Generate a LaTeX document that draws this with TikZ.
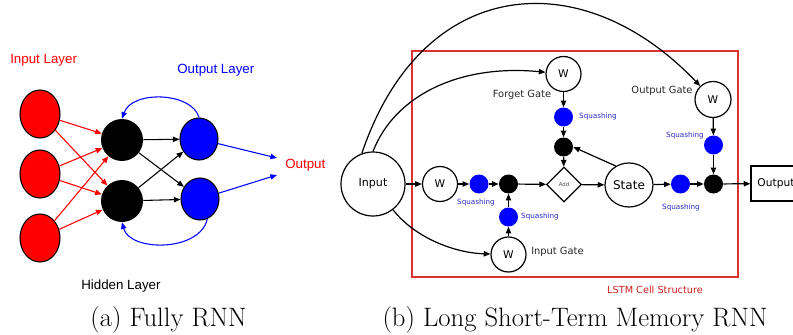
\documentclass[tikz,border=0pt]{standalone}
\usepackage{fontspec}
\newfontfamily\lsans{Liberation Sans}
\newfontfamily\dsans{DejaVu Sans}
\usetikzlibrary{arrows.meta,shapes.geometric}
\definecolor{sqblue}{RGB}{40,40,200}
\definecolor{boxred}{RGB}{220,50,50}
\definecolor{lstmred}{RGB}{205,30,30}
\tikzset{
  tiparr/.style={-{Triangle[length=5pt,width=4pt]}},
  lred/.style={ellipse, draw=black, fill=red, line width=0.8pt, minimum width=30pt, minimum height=36pt, inner sep=0pt},
  lblk/.style={circle, fill=black, minimum size=31.5pt, inner sep=0pt},
  lblu/.style={ellipse, draw=black, fill=blue, line width=0.8pt, minimum width=28.5pt, minimum height=31.5pt, inner sep=0pt},
  ltxt/.style={font=\lsans\fontsize{10}{12}\selectfont, inner sep=0pt},
  redarr/.style={tiparr, draw=red, line width=0.8pt},
  blkarr/.style={tiparr, draw=black, line width=0.8pt},
  bluarr/.style={tiparr, draw=blue, line width=0.8pt},
  wnode/.style={circle, draw=black, fill=white, line width=0.9pt, minimum size=26.25pt, inner sep=0pt, font=\dsans\fontsize{8}{9}\selectfont},
  bdot/.style={circle, fill=blue, minimum size=14.25pt, inner sep=0pt},
  kdot/.style={circle, fill=black, minimum size=14.25pt, inner sep=0pt},
  sqlab/.style={font=\dsans\fontsize{5.4}{6}\selectfont, text=sqblue, inner sep=0pt},
  glab/.style={font=\dsans\fontsize{7.4}{9}\selectfont, text=black!85, inner sep=0pt},
  conn/.style={tiparr, draw=black, line width=0.9pt},
  capt/.style={font=\fontsize{20}{22}\selectfont, inner sep=0pt}
}
\begin{document}
\begin{tikzpicture}[x=0.75pt,y=-0.75pt]
\useasboundingbox (0,0) rectangle (793,335);
\clip (0,0) rectangle (793,335);

% ---------- (a) Fully RNN ----------
\node[lred] (i1) at (40,114) {};
\node[lred] (i2) at (40,174) {};
\node[lred] (i3) at (40,238) {};
\node[lblk] (h1) at (122,140) {};
\node[lblk] (h2) at (122,201) {};
\node[lblu] (o1) at (199,139) {};
\node[lblu] (o2) at (200,199) {};
\node[ltxt, text=red, anchor=west] (lin) at (10,60) {Input Layer};
\node[ltxt, text=blue, anchor=west] (lout) at (177,70) {Output Layer};
\node[ltxt, anchor=west] (lhid) at (81,286) {Hidden Layer};
\node[ltxt, text=red, anchor=west] (lres) at (285,165) {Output};
\coordinate (c1) at (277,158);
\coordinate (c2) at (277,175);

\foreach \a in {i1,i2,i3} \foreach \b in {h1,h2} \draw[redarr] (\a) -- (\b);
\foreach \a in {h1,h2} \foreach \b in {o1,o2} \draw[blkarr] (\a) -- (\b);
\draw[bluarr] (o1) -- (c1);
\draw[bluarr] (o2) -- (c2);
\draw[bluarr] (o1.north) .. controls (192,92) and (132,90) .. (h1.north);
\draw[bluarr] (o2.-70) .. controls (200,252) and (130,252) .. (h2.south);

\node[capt] (capa) at (168.5,320) {(a) Fully RNN};

% ---------- (b) LSTM ----------
\draw[boxred, line width=1.1pt] (412,51) rectangle (738,277);
\node[font=\dsans\fontsize{7.3}{9}\selectfont, text=lstmred, inner sep=0pt] (lstm) at (655,290) {LSTM Cell Structure};

\node[circle, draw=black, fill=white, line width=0.9pt, minimum size=48pt, inner sep=0pt, font=\dsans\fontsize{8.3}{9}\selectfont] (inp) at (373,184) {Input};
\node[wnode] (w1) at (440,184) {W};
\node[bdot] (sq1) at (479,184) {};
\node[kdot] (m1) at (508.5,184) {};
\node[bdot] (sq2) at (508.5,217) {};
\node[wnode] (wi) at (508.5,254.5) {W};
\node[diamond, draw=black, fill=white, line width=0.9pt, minimum width=26.25pt, minimum height=26.25pt, inner sep=0pt, font=\dsans\fontsize{4}{5}\selectfont, text=black!70] (add) at (564,184.5) {Add};
\node[kdot] (mf) at (563.5,147) {};
\node[bdot] (sqf) at (563.5,117) {};
\node[wnode] (wf) at (563.5,74) {W};
\node[ellipse, draw=black, fill=white, line width=0.9pt, minimum width=36pt, minimum height=33pt, inner sep=0pt, font=\dsans\fontsize{9}{11}\selectfont] (state) at (629,185) {State};
\node[bdot] (sq3) at (680.5,184) {};
\node[kdot] (m3) at (713.5,184) {};
\node[bdot] (sqo) at (713.5,145) {};
\node[wnode, minimum size=27pt] (wo) at (713,99.5) {W};
\node[rectangle, draw=black, fill=white, line width=0.9pt, minimum width=37.5pt, minimum height=26.25pt, inner sep=0pt, font=\dsans\fontsize{8}{9}\selectfont] (out) at (776,183.5) {Output};

\node[sqlab] (s1) at (476,203) {Squashing};
\node[sqlab] (s2) at (540,217) {Squashing};
\node[sqlab] (s3) at (598,117) {Squashing};
\node[sqlab] (s4) at (681,208) {Squashing};
\node[sqlab] (s5) at (685,136) {Squashing};
\node[glab] (fg) at (522,95) {Forget Gate};
\node[glab, anchor=west] (ig) at (531,252) {Input Gate};
\node[glab] (og) at (662,91) {Output Gate};

\draw[conn] (inp) -- (w1);
\draw[conn] (w1) -- (sq1);
\draw[conn] (sq1) -- (m1);
\draw[conn] (m1) -- (add);
\draw[conn] (wi) -- (sq2);
\draw[conn] (sq2) -- (m1);
\draw[conn] (wf) -- (sqf);
\draw[conn] (sqf) -- (mf);
\draw[conn] (mf) -- (add);
\draw[conn] (add) -- (state);
\draw[conn] (state.125) -- (mf.east);
\draw[conn] (state) -- (sq3);
\draw[conn] (sq3) -- (m3);
\draw[conn] (wo) -- (sqo);
\draw[conn] (sqo) -- (m3);
\draw[conn] (m3) -- (out);
\draw[conn] (inp) .. controls (415,238) and (455,253) .. (wi);
\draw[conn] (inp.north) .. controls (395,95) and (460,64) .. (wf);
\draw[conn] (inp.110) .. controls (422,-25) and (582,-38) .. (wo);

\node[capt] (capb) at (575,320) {(b) Long Short-Term Memory RNN};
\end{tikzpicture}
\end{document}
